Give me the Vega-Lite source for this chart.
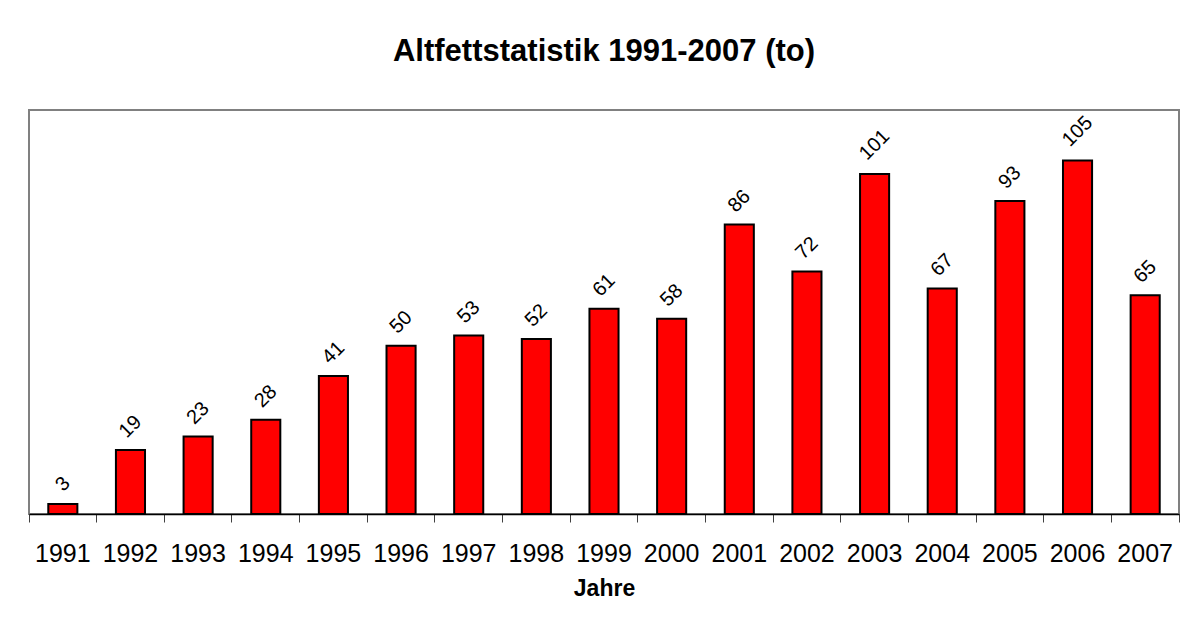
{
  "$schema": "https://vega.github.io/schema/vega-lite/v6.json",
  "autosize": {"type": "none"},
  "width": 1150,
  "height": 404,
  "padding": {"left": 29, "top": 110, "right": 16, "bottom": 123},
  "background": "white",
  "title": {
    "text": "Altfettstatistik 1991-2007 (to)",
    "font": "Liberation Sans",
    "fontSize": 31,
    "fontWeight": "bold",
    "color": "#000000",
    "anchor": "middle",
    "baseline": "alphabetic",
    "offset": 18
  },
  "config": {
    "view": {"stroke": "#808080", "strokeWidth": 2},
    "font": "Liberation Sans"
  },
  "data": {
    "values": [
      {"year": "1991", "v": 3},
      {"year": "1992", "v": 19},
      {"year": "1993", "v": 23},
      {"year": "1994", "v": 28},
      {"year": "1995", "v": 41},
      {"year": "1996", "v": 50},
      {"year": "1997", "v": 53},
      {"year": "1998", "v": 52},
      {"year": "1999", "v": 61},
      {"year": "2000", "v": 58},
      {"year": "2001", "v": 86},
      {"year": "2002", "v": 72},
      {"year": "2003", "v": 101},
      {"year": "2004", "v": 67},
      {"year": "2005", "v": 93},
      {"year": "2006", "v": 105},
      {"year": "2007", "v": 65}
    ]
  },
  "encoding": {
    "x": {
      "field": "year",
      "type": "ordinal",
      "scale": {"paddingInner": 0, "paddingOuter": 0},
      "axis": {
        "title": "Jahre",
        "labelAngle": 0,
        "labelFont": "Liberation Sans",
        "labelFontSize": 25,
        "labelColor": "#000000",
        "labelPadding": 19,
        "bandPosition": 1,
        "tickExtra": true,
        "tickSize": 8,
        "tickColor": "#404040",
        "tickWidth": 1,
        "domainColor": "#000000",
        "domainWidth": 1.5,
        "titleFont": "Liberation Sans",
        "titleFontSize": 23,
        "titleFontWeight": "bold",
        "titleColor": "#000000",
        "titlePadding": 11
      }
    },
    "y": {
      "field": "v",
      "type": "quantitative",
      "scale": {"domain": [0, 120], "nice": false},
      "axis": null
    }
  },
  "layer": [
    {
      "mark": {"type": "bar", "width": {"band": 0.43}, "color": "#ff0000", "stroke": "#000000", "strokeWidth": 2}
    },
    {
      "transform": [{"filter": "datum.v < 10"}],
      "mark": {"type": "text", "angle": -45, "align": "center", "baseline": "middle", "font": "Liberation Sans", "fontSize": 20, "color": "#000000", "dx": 14, "dy": -14},
      "encoding": {"text": {"field": "v", "type": "quantitative"}}
    },
    {
      "transform": [{"filter": "datum.v >= 10 && datum.v < 100"}],
      "mark": {"type": "text", "angle": -45, "align": "center", "baseline": "middle", "font": "Liberation Sans", "fontSize": 20, "color": "#000000", "dx": 16.5, "dy": -16.5},
      "encoding": {"text": {"field": "v", "type": "quantitative"}}
    },
    {
      "transform": [{"filter": "datum.v >= 100"}],
      "mark": {"type": "text", "angle": -45, "align": "center", "baseline": "middle", "font": "Liberation Sans", "fontSize": 20, "color": "#000000", "dx": 20.5, "dy": -20.5},
      "encoding": {"text": {"field": "v", "type": "quantitative"}}
    }
  ]
}
